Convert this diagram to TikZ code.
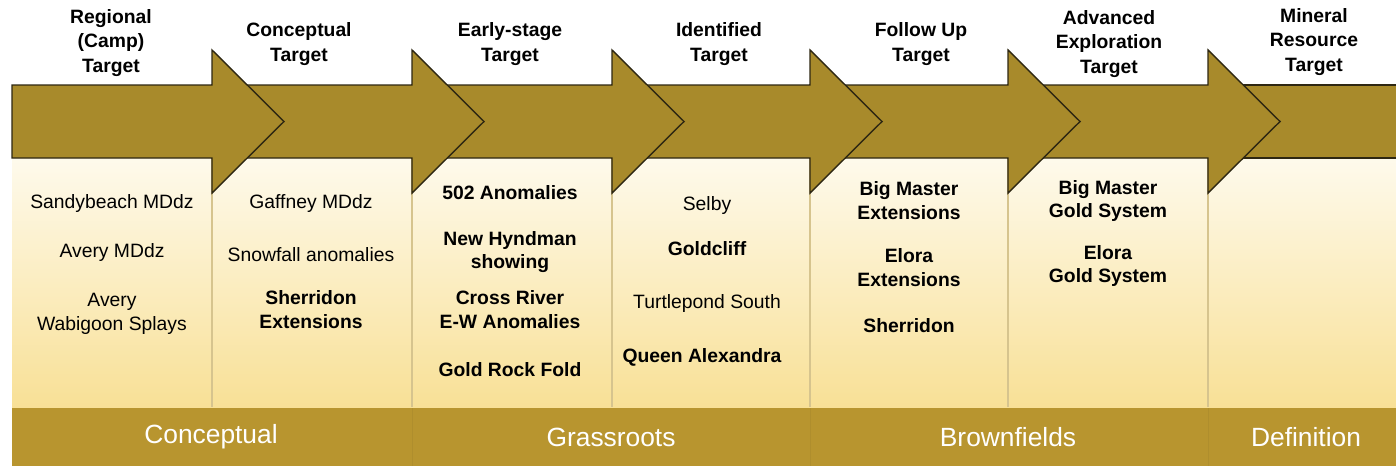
\documentclass[tikz,border=0pt]{standalone}
\usepackage{fontspec}
\setmainfont{Liberation Sans}
\usepackage{tikz}

\definecolor{golden}{HTML}{A88A2B}
\definecolor{barfill}{HTML}{B8952F}
\definecolor{rim}{HTML}{2E2712}
\definecolor{paletop}{HTML}{FEFAEC}
\definecolor{palebot}{HTML}{F8E096}
\definecolor{seam}{HTML}{D6C48E}

\begin{document}
\begin{tikzpicture}[x=0.02cm,y=-0.02cm,
  stage/.style={font=\fontsize{11}{13.8}\selectfont\bfseries,align=center,inner sep=0pt},
  item/.style={font=\fontsize{11}{13.6}\selectfont,align=center,inner sep=0pt},
  bitem/.style={font=\fontsize{11}{13.6}\selectfont\bfseries,align=center,inner sep=0pt},
  phase/.style={font=\fontsize{15}{18}\selectfont,text=white,inner sep=0pt},
  arrowbody/.style={fill=golden,draw=rim,line width=0.8pt,line join=miter}]
\useasboundingbox (0,0) rectangle (1396,467);
\fill [white] (0,0) rectangle (1396,467);
\shade [top color=paletop,bottom color=palebot] (12,158) rectangle (1396,407);
\foreach \x in {212,412,612,810,1008,1208}
  \draw [seam,line width=0.8pt] (\x,158) -- (\x,407);
\fill [barfill] (12,408) rectangle (1396,466);
\foreach \x in {412,810,1208}
  \draw [barfill!95!black,line width=0.5pt] (\x,408) -- (\x,466);
\fill [golden] (1208,85) rectangle (1396,158);
\draw [rim,line width=0.8pt] (1208,85) -- (1396,85) (1208,158) -- (1396,158);
\foreach \l/\b in {1008/1208,810/1008,612/810,412/612,212/412,12/212}
  \draw [arrowbody] (\l,85) -- (\b,85) -- (\b,50) -- (\b+72,121.5) -- (\b,193) -- (\b,158) -- (\l,158) -- cycle;
\node [stage] (t1) at (111,43) {Regional\\(Camp)\\Target};
\node [stage] (t2) at (299,44) {Conceptual\\Target};
\node [stage] (t3) at (510,44) {Early-stage\\Target};
\node [stage] (t4) at (719,44) {Identified\\Target};
\node [stage] (t5) at (921,44) {Follow Up\\Target};
\node [stage] (t6) at (1109,44) {Advanced\\Exploration\\Target};
\node [stage] (t7) at (1314,42) {Mineral\\Resource\\Target};
\node [item] (a1) at (112,203) {Sandybeach MDdz};
\node [item] (a2) at (112,252) {Avery MDdz};
\node [item] (a3) at (112,314) {Avery\\Wabigoon Splays};
\node [item] (b1) at (311,203) {Gaffney MDdz};
\node [item] (b2) at (311,255) {Snowfall anomalies};
\node [bitem] (b3) at (311,310) {Sherridon\\Extensions};
\node [bitem] (c1) at (510,193) {502 Anomalies};
\node [bitem] (c2) at (510,252) {New Hyndman\\showing};
\node [bitem] (c3) at (510,310) {Cross River\\E-W Anomalies};
\node [bitem] (c4) at (510,370) {Gold Rock Fold};
\node [item] (d1) at (707,205) {Selby};
\node [bitem] (d2) at (707,249) {Goldcliff};
\node [item] (d3) at (707,303) {Turtlepond South};
\node [bitem] (d4) at (702,357) {Queen Alexandra};
\node [bitem] (e1) at (909,201) {Big Master\\Extensions};
\node [bitem] (e2) at (909,268) {Elora\\Extensions};
\node [bitem] (e3) at (909,326) {Sherridon};
\node [bitem] (f1) at (1108,201) {Big Master\\Gold System};
\node [bitem] (f2) at (1108,266) {Elora\\Gold System};
\node [phase] (p1) at (211,437) {Conceptual};
\node [phase] (p2) at (611,437) {Grassroots};
\node [phase] (p3) at (1008,437) {Brownfields};
\node [phase] (p4) at (1306,437) {Definition};
\end{tikzpicture}
\end{document}
